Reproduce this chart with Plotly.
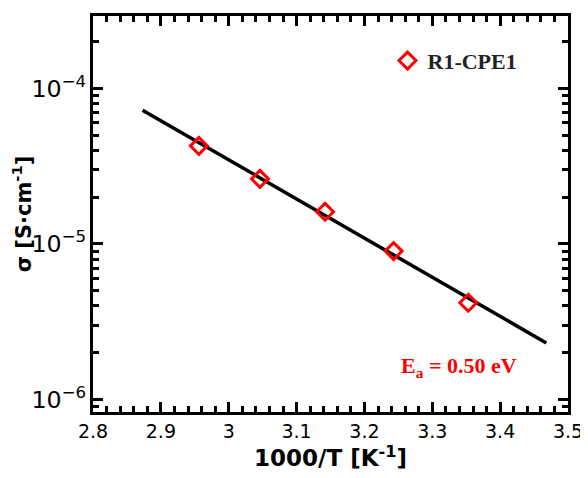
import plotly.graph_objects as go

# Data
inv_T = [2.956, 3.046, 3.142, 3.243, 3.353]
sigma = [4.27e-5, 2.62e-5, 1.61e-5, 9.0e-6, 4.19e-6]
fit_x = [2.873, 3.468]
fit_y = [7.24e-5, 2.31e-6]
series_name = "R1-CPE1"
ea_label = "E<sub>a</sub> = 0.50 eV"

fig = go.Figure()
fig.add_trace(go.Scatter(x=fit_x, y=fit_y, mode="lines",
                         line=dict(color="black", width=3.5), showlegend=False))
fig.add_trace(go.Scatter(x=inv_T, y=sigma, mode="markers", name="<b>" + series_name + "</b>",
                         marker=dict(symbol="diamond-open", size=13, color="#ff0000",
                                     line=dict(width=3, color="#ff0000"))))

axis_common = dict(showline=True, linecolor="black", linewidth=3, mirror="allticks",
                   ticks="inside", tickwidth=2.5, ticklen=10, tickcolor="black",
                   showgrid=False, zeroline=False,
                   tickfont=dict(family="DejaVu Sans", size=19, color="black"))

fig.update_layout(
    width=580, height=470,
    margin=dict(l=82, r=18, t=5, b=66),
    plot_bgcolor="white", paper_bgcolor="white",
    xaxis=dict(range=[2.8, 3.5], dtick=0.1, tick0=2.8,
               minor=dict(ticks="inside", dtick=0.02, ticklen=6, tickwidth=2.5, tickcolor="black"),
               title=dict(text="<b>1000/T [K<sup>-1</sup>]</b>", standoff=6,
                          font=dict(family="DejaVu Sans", size=23, color="black")),
               **axis_common),
    yaxis=dict(type="log", range=[-6.08, -3.535], dtick=1, exponentformat="power",
               showexponent="all",
               minor=dict(ticks="inside", dtick="D1", ticklen=6, tickwidth=2.5, tickcolor="black"),
               title=dict(text="<b>σ [S·cm<sup>-1</sup>]</b>", standoff=4,
                          font=dict(family="DejaVu Sans", size=21, color="black")),
               **axis_common),
    legend=dict(x=0.62, y=0.94, xanchor="left", yanchor="top",
                bgcolor="rgba(0,0,0,0)",
                font=dict(family="Liberation Serif", size=22, color="#222222")),
    font=dict(family="Liberation Serif"),
)

fig.add_annotation(xref="paper", yref="paper", x=0.771, y=0.113,
                   xanchor="center", yanchor="middle",
                   text="<b>" + ea_label + "</b>", showarrow=False,
                   font=dict(family="Liberation Serif", size=22, color="#ff0000"))

fig.write_html("out.html")
